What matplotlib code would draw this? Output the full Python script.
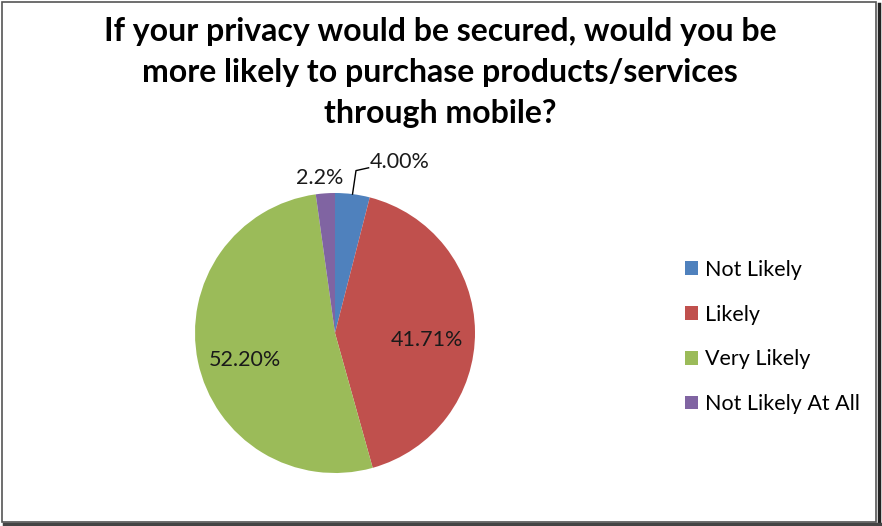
import numpy as np
import matplotlib.pyplot as plt
from matplotlib.patches import Rectangle
from matplotlib.lines import Line2D

plt.rcParams['font.family'] = ['Lato', 'DejaVu Sans']

title = "If your privacy would be secured, would you be\nmore likely to purchase products/services\nthrough mobile?"
categories = ["Not Likely", "Likely", "Very Likely", "Not Likely At All"]
values = [4.00, 41.71, 52.20, 2.2]
labels = ["4.00%", "41.71%", "52.20%", "2.2%"]
colors = ["#4F81BD", "#C0504D", "#9BBB59", "#8064A2"]

W, H = 882, 526
fig = plt.figure(figsize=(W / 100, H / 100), dpi=100)

# pie centred at (335, 333) px with radius 140 px
cx, cy, r = 335, 333, 140
ax = fig.add_axes([(cx - r) / W, (H - cy - r) / H, 2 * r / W, 2 * r / H])
wedges, _ = ax.pie(values, colors=colors, startangle=90, counterclock=False,
                   wedgeprops=dict(linewidth=0))
ax.set_xlim(-1, 1)
ax.set_ylim(-1, 1)
ax.set_aspect('equal')
ax.axis('off')

lab_size = 15.5
lab_color = '#1a1a1a'

# inside labels for the two large slices
for i in (1, 2):
    w = wedges[i]
    ang = np.deg2rad((w.theta1 + w.theta2) / 2)
    ax.text(0.66 * np.cos(ang), 0.66 * np.sin(ang) - 0.06, labels[i],
            ha='center', va='center', fontsize=lab_size, color=lab_color)

# small slices get outside labels, the blue one with a leader line
w = wedges[0]
ang = np.deg2rad((w.theta1 + w.theta2) / 2)
x0, y0 = np.cos(ang), np.sin(ang)
ax.add_line(Line2D([x0, 0.15, 0.24], [y0, 1.16, 1.18], color='black', lw=1,
                   clip_on=False))
ax.text(0.25, 1.225, labels[0], ha='left', va='center', fontsize=lab_size,
        color=lab_color)
ax.text(-0.11, 1.11, labels[3], ha='center', va='center', fontsize=lab_size,
        color=lab_color)

fig.text(0.499, 1 - 72 / H, title, ha='center', va='center', fontsize=23,
         fontweight='bold', linespacing=1.5, color='black')

fig.legend(wedges, categories, loc='center left',
           bbox_to_anchor=(666 / W, 1 - 337 / H), frameon=False,
           fontsize=15.5, labelspacing=1.15, handlelength=0.6,
           handleheight=0.6, handletextpad=0.3)

# chart frame with a slight drop shadow
fig.patches.append(Rectangle((2 / W, 4 / H), 874 / W, 520 / H, fill=False,
                             edgecolor='#555555', lw=1.2,
                             transform=fig.transFigure))
fig.add_artist(Line2D([879 / W, 879 / W], [2 / H, 522 / H], color='#222222',
                      lw=2.5, transform=fig.transFigure))
fig.add_artist(Line2D([4 / W, 880 / W], [2 / H, 2 / H], color='#444444',
                      lw=2.5, transform=fig.transFigure))

fig.savefig("out.png", dpi=100)
